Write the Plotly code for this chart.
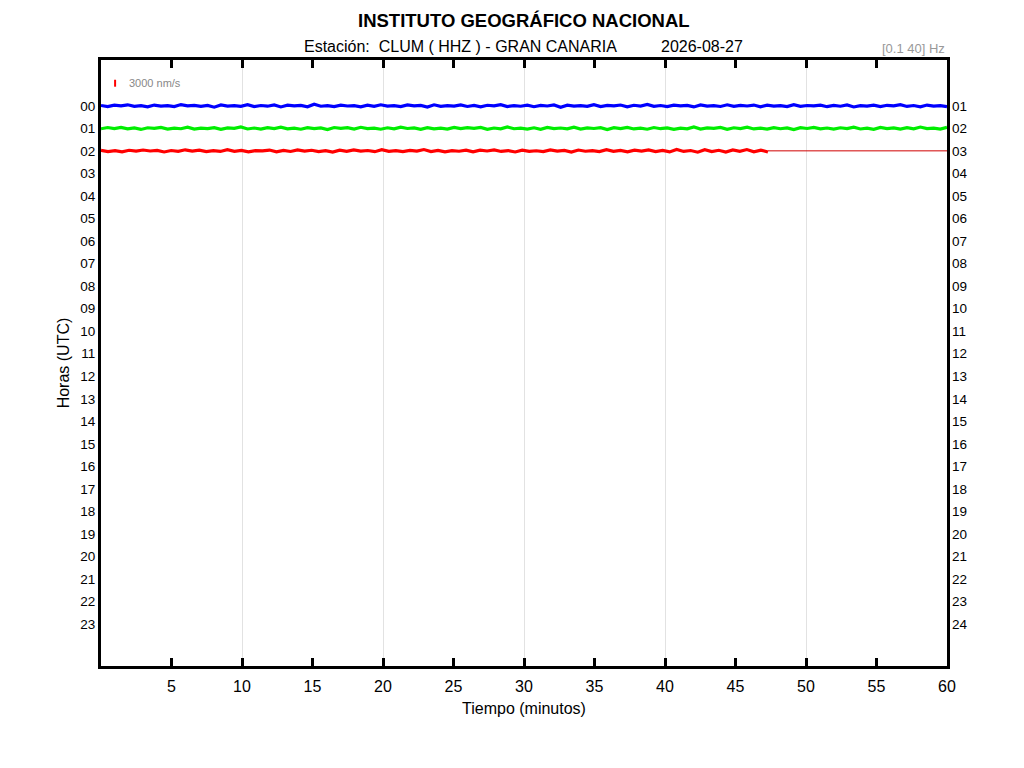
import numpy as np
import plotly.graph_objects as go

# hour rows and tick labels
hour_labels_left = ["%02d" % h for h in range(24)]
hour_labels_right = ["%02d" % h for h in range(1, 25)]
x_ticks = [5, 10, 15, 20, 25, 30, 35, 40, 45, 50, 55, 60]

# seismic trace amplitudes (nm/s), read as a noise band around each hour line
blue_amp = [120, -340, 260, -80, 410, -220, 30, -460, 310, -150, 90, -380, 520, -40, 200, -290,
            170, -610, 350, -120, 60, -270, 440, -330, 110, -190, 380, -500, 240, -60, 150, -420,
            690, -210, 80, -350, 300, -100, 20, -450, 260, -280, 430, -170, 50, -390, 330, -80,
            180, -560, 410, -240, 90, -130, 360, -300, 140, -470, 220, -50, 500, -320, 70, -200,
            290, -410, 160, -90, 340, -640, 250, -150, 40, -280, 460, -360, 130, -60, 320, -430,
            210, -110, 580, -250, 100, -380, 270, -20, 190, -500, 370, -170, 60, -310, 420, -230,
            150, -90, 300, -460, 240, -140, 80, -350, 490, -270, 120, -40, 260, -400, 180, -210,
            350, -520, 90, -160, 280, -330, 200, -70, 450, -290, 110, -420, 310, -180, 50, -360]
green_amp = [-210, 330, -90, 420, -260, 150, -480, 240, -60, 370, -310, 110, -190, 520, -350, 80,
             -140, 290, -430, 200, -40, 610, -280, 130, -370, 250, -100, 460, -220, 70, -400, 310,
             -160, 180, -540, 340, -30, 260, -300, 440, -120, 90, -390, 230, -250, 500, -80, 160,
             -450, 300, -200, 50, -330, 410, -150, 270, -60, 380, -470, 120, -240, 560, -180, 40,
             -310, 220, -420, 350, -90, 140, -260, 480, -350, 190, -70, 300, -500, 250, -130, 420,
             -280, 60, -390, 330, -170, 210, -440, 100, -230, 590, -300, 150, -50, 380, -410, 240,
             -120, 460, -270, 80, -360, 310, -190, 170, -520, 280, -80, 400, -250, 130, -330, 230,
             -160, 490, -290, 60, -430, 350, -110, 200, -370, 270, -210, 540, -140, 90, -300, 380]
red_amp = [180, -300, 90, -410, 260, -150, 370, -60, 230, -480, 140, -220, 450, -90, 310, -350,
           70, -260, 520, -180, 200, -390, 110, -40, 340, -460, 160, -270, 420, -120, 250, -330,
           60, -500, 290, -200, 380, -80, 150, -360, 470, -230, 100, -310, 230, -140, 560, -280,
           190, -420, 80, -170, 330, -380, 270, -60, 440, -250, 130, -470, 300, -190, 50, -340,
           410, -110, 220, -530, 360, -160, 120, -290, 490, -230, 170, -400, 280, -70, 380, -320,
           210, -450, 620, -260, 140, -580, 470, -300, 250, -510, 390, -200, 560, -420, 300, -480]

blue_end_min = 60.0
green_end_min = 60.0
red_end_min = 47.3
hour_blue, hour_green, hour_red = 0, 1, 2

scale_nm = 3000
px_per_hour = 22.65
nm_per_hour = scale_nm / (7 / px_per_hour)   # 3000 nm/s bar is ~7 px tall

y_top, y_bottom = -2.03, 24.85


def trace_xy(amp, end_min, hour):
    t = np.linspace(0, end_min, len(amp))
    y = hour - np.array(amp) / nm_per_hour
    return t, y


fig = go.Figure()

for amp, end, hr, col in [(blue_amp, blue_end_min, hour_blue, "#0000ff"),
                          (green_amp, green_end_min, hour_green, "#00ee00"),
                          (red_amp, red_end_min, hour_red, "#ff0000")]:
    t, y = trace_xy(amp, end, hr)
    fig.add_trace(go.Scatter(x=t, y=y, mode="lines", line=dict(color=col, width=3.2),
                             hoverinfo="skip", showlegend=False))

# flat tail of the current hour
fig.add_trace(go.Scatter(x=[red_end_min, 60], y=[hour_red, hour_red], mode="lines",
                         line=dict(color="#d00000", width=1), showlegend=False, hoverinfo="skip"))

# amplitude scale bar
bar_x, bar_y = 1.0, -1.0
half = scale_nm / nm_per_hour / 2
fig.add_trace(go.Scatter(x=[bar_x, bar_x], y=[bar_y - half, bar_y + half], mode="lines",
                         line=dict(color="#ff0000", width=2), showlegend=False, hoverinfo="skip"))

# helper trace so the overlay axes are drawn
fig.add_trace(go.Scatter(x=[0], y=[0], xaxis="x2", yaxis="y2", mode="markers",
                         marker=dict(opacity=0), showlegend=False, hoverinfo="skip"))

font = "Liberation Sans, Arial, sans-serif"

fig.update_layout(
    width=1024, height=768,
    margin=dict(l=93, r=85, t=52, b=110),
    paper_bgcolor="white", plot_bgcolor="white",
    font=dict(family=font, color="black", size=14),
    xaxis=dict(range=[0, 60], tickvals=x_ticks, ticks="inside", ticklen=8, tickwidth=3,
               tickcolor="black", showline=True, linewidth=3, linecolor="black",
               mirror="allticks", showgrid=False, zeroline=False, ticklabelstandoff=4,
               tickfont=dict(size=16),
               title=dict(text="Tiempo (minutos)", font=dict(size=16), standoff=9)),
    xaxis2=dict(range=[0, 60], overlaying="x", dtick=10, tick0=0, showgrid=True,
                gridcolor="#e2e2e2", gridwidth=1, showticklabels=False, ticks="", zeroline=False),
    yaxis=dict(range=[y_bottom, y_top], tickvals=list(range(24)), ticktext=hour_labels_left,
               ticks="", showline=True, linewidth=3, linecolor="black", mirror=True,
               showgrid=False, zeroline=False, tickfont=dict(size=13.5),
               title=dict(text="Horas (UTC)", font=dict(size=16), standoff=7)),
    yaxis2=dict(range=[y_bottom, y_top], overlaying="y", side="right",
                tickvals=list(range(24)), ticktext=hour_labels_right, ticks="",
                showgrid=False, zeroline=False, tickfont=dict(size=13.5), ticklabelstandoff=4),
    annotations=[
        dict(text="<b>INSTITUTO GEOGRÁFICO NACIONAL</b>", x=0.5, y=1.0657, xref="paper", yref="paper",
             showarrow=False, font=dict(size=18.5), xanchor="center", yanchor="middle"),
        dict(text="Estación:  CLUM ( HHZ ) - GRAN CANARIA", x=0.238, y=1.023, xref="paper",
             yref="paper", showarrow=False, font=dict(size=16), xanchor="left", yanchor="middle"),
        dict(text="2026-08-27", x=0.6597, y=1.023, xref="paper", yref="paper", showarrow=False,
             font=dict(size=16), xanchor="left", yanchor="middle"),
        dict(text="[0.1 40] Hz", x=1.0, y=1.0197, xref="paper", yref="paper", showarrow=False,
             font=dict(size=13, color="#999999"), xanchor="right", yanchor="middle"),
        dict(text="%d nm/s" % scale_nm, x=1.84, y=bar_y, xref="x", yref="y", showarrow=False,
             font=dict(size=11, color="#888888"), xanchor="left", yanchor="middle"),
    ],
)

fig.write_html("out.html")
